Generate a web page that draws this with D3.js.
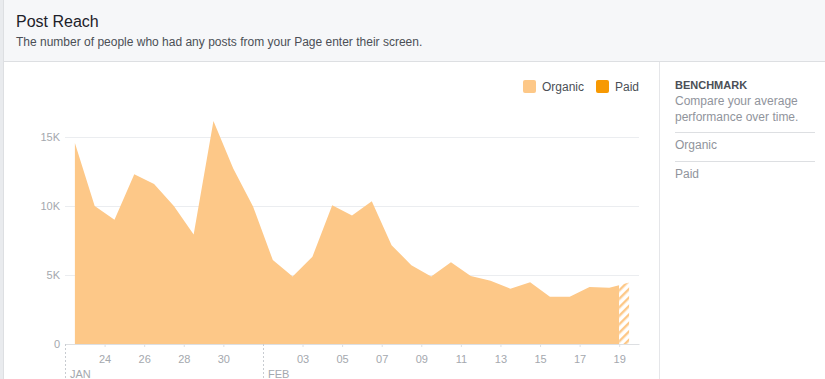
<!DOCTYPE html>
<html>
<head>
<meta charset="utf-8">
<script src="https://cdn.jsdelivr.net/npm/d3@7/dist/d3.min.js"></script>
<style>
body{margin:0;background:#fff;font-family:"Liberation Sans",Arial,Helvetica,sans-serif;}
svg{display:block;}
</style>
</head>
<body>
<div id="chart"></div>
<script>
// data
var days = ["2018-01-22","2018-01-23","2018-01-24","2018-01-25","2018-01-26","2018-01-27","2018-01-28",
  "2018-01-29","2018-01-30","2018-01-31","2018-02-01","2018-02-02","2018-02-03","2018-02-04","2018-02-05",
  "2018-02-06","2018-02-07","2018-02-08","2018-02-09","2018-02-10","2018-02-11","2018-02-12","2018-02-13",
  "2018-02-14","2018-02-15","2018-02-16","2018-02-17","2018-02-18","2018-02-19"];
var organic = [14590,10020,9010,12320,11620,10020,7950,16180,12730,9980,6090,4900,6330,10070,9330,
  10360,7170,5720,4900,5940,4930,4590,4010,4490,3430,3430,4130,4080,4470];
var paid = [0,0,0,0,0,0,0,0,0,0,0,0,0,0,0,0,0,0,0,0,0,0,0,0,0,0,0,0,0];
var xTickDays = ["2018-01-24","2018-01-26","2018-01-28","2018-01-30","2018-02-03","2018-02-05","2018-02-07",
  "2018-02-09","2018-02-11","2018-02-13","2018-02-15","2018-02-17","2018-02-19"];
var monthDays = ["2018-01-22","2018-02-01"];
var monthLabels = ["JAN","FEB"];
var yTicks = [0,5000,10000,15000];
var seriesNames = ["Organic","Paid"];
var seriesColors = ["#fdc888","#f79902"];
var partialStart = "2018-02-19"; // day still in progress -> hatched

var W = 825, H = 379;
var parse = d3.utcParse("%Y-%m-%d");

var data = days.map(function(d,i){
  return {t: d3.utcHour.offset(parse(d),12), organic: organic[i], paid: paid[i]};
});

var x = d3.scaleUtc()
  .domain([parse(days[0]), d3.utcDay.offset(parse(days[days.length-1]),1)])
  .range([65,639]);
var y = d3.scaleLinear().domain([0,15000]).range([344,137.3]);

var svg = d3.select("#chart").append("svg").attr("width",W).attr("height",H);

// page frame
svg.append("rect").attr("x",0).attr("y",0).attr("width",3).attr("height",H).attr("fill","#e9ebee");
svg.append("rect").attr("x",3).attr("y",0).attr("width",W-3).attr("height",61).attr("fill","#f6f7f9");
svg.append("line").attr("x1",3).attr("x2",W).attr("y1",61.5).attr("y2",61.5).attr("stroke","#dddfe2");
svg.append("line").attr("x1",3.5).attr("x2",3.5).attr("y1",0).attr("y2",H).attr("stroke","#dddfe2");
svg.append("line").attr("x1",659.5).attr("x2",659.5).attr("y1",62).attr("y2",H).attr("stroke","#e5e6e9");

svg.append("text").attr("x",16).attr("y",27).attr("font-size",16).attr("fill","#1d2129").text("Post Reach");
svg.append("text").attr("x",16).attr("y",45.5).attr("font-size",12).attr("fill","#4b4f56")
  .text("The number of people who had any posts from your Page enter their screen.");

// hatch for the incomplete day
var defs = svg.append("defs");
var pat = defs.append("pattern").attr("id","hatch").attr("patternUnits","userSpaceOnUse")
  .attr("width",6).attr("height",6).attr("patternTransform","rotate(45)");
pat.append("rect").attr("width",6).attr("height",6).attr("fill","#fff");
pat.append("rect").attr("width",2.4).attr("height",6).attr("fill",seriesColors[0]);

var cut = x(parse(partialStart));
defs.append("clipPath").attr("id","done").append("rect")
  .attr("x",0).attr("y",0).attr("width",cut).attr("height",H);
defs.append("clipPath").attr("id","open").append("rect")
  .attr("x",cut).attr("y",0).attr("width",W-cut).attr("height",H);

// gridlines
svg.append("g").selectAll("line").data(yTicks.filter(function(d){return d>0;})).enter().append("line")
  .attr("x1",65).attr("x2",639)
  .attr("y1",function(d){return Math.round(y(d))+0.5;})
  .attr("y2",function(d){return Math.round(y(d))+0.5;})
  .attr("stroke","#ebedf0");

var area = d3.area()
  .x(function(d){return x(d.t);})
  .y0(y(0))
  .y1(function(d){return y(d.organic);});
var areaPaid = d3.area()
  .x(function(d){return x(d.t);})
  .y0(function(d){return y(d.organic);})
  .y1(function(d){return y(d.organic+d.paid);});

svg.append("path").datum(data).attr("d",area).attr("fill",seriesColors[0]).attr("clip-path","url(#done)");
svg.append("path").datum(data).attr("d",areaPaid).attr("fill",seriesColors[1]).attr("clip-path","url(#done)");
svg.append("path").datum(data).attr("d",area).attr("fill","url(#hatch)").attr("clip-path","url(#open)");

// x axis
var xAxis = svg.append("g").attr("transform","translate(0,344)")
  .call(d3.axisBottom(x).tickValues(xTickDays.map(parse)).tickFormat(d3.utcFormat("%d"))
    .tickSize(3).tickPadding(8).tickSizeOuter(0));
xAxis.select(".domain").attr("stroke","#dddfe2");
xAxis.selectAll(".tick line").attr("stroke","#dddfe2");
xAxis.selectAll("text").attr("fill","#a4a8ae").attr("font-size",11)
  .attr("font-family","'Liberation Sans',Arial,sans-serif");

// month markers
var months = svg.append("g");
monthDays.forEach(function(d,i){
  var mx = Math.round(x(parse(d)))+0.5;
  months.append("line").attr("x1",mx).attr("x2",mx).attr("y1",344).attr("y2",H)
    .attr("stroke","#c8ccd1").attr("stroke-dasharray","2,2");
  months.append("text").attr("x",mx+4.5).attr("y",378).attr("font-size",11).attr("fill","#a4a8ae")
    .text(monthLabels[i]);
});

// y axis
var yAxis = svg.append("g").attr("transform","translate(65,0)")
  .call(d3.axisLeft(y).tickValues(yTicks).tickSize(0).tickPadding(5)
    .tickFormat(function(d){return d===0 ? "0" : (d/1000)+"K";}));
yAxis.select(".domain").remove();
yAxis.selectAll("text").attr("fill","#a4a8ae").attr("font-size",11)
  .attr("font-family","'Liberation Sans',Arial,sans-serif");

// legend
var legX = [523,596];
var leg = svg.append("g");
seriesNames.forEach(function(n,i){
  leg.append("rect").attr("x",legX[i]).attr("y",80).attr("width",13).attr("height",13)
    .attr("rx",2).attr("fill",seriesColors[i]);
  leg.append("text").attr("x",legX[i]+19).attr("y",90.5).attr("font-size",12).attr("fill","#4b4f56").text(n);
});

// benchmark panel
var side = svg.append("g");
side.append("text").attr("x",675).attr("y",89).attr("font-size",11).attr("font-weight","bold")
  .attr("fill","#4b4f56").text("BENCHMARK");
side.append("text").attr("x",675).attr("y",104.5).attr("font-size",12).attr("fill","#90949c").text("Compare your average");
side.append("text").attr("x",675).attr("y",120.5).attr("font-size",12).attr("fill","#90949c").text("performance over time.");
side.append("line").attr("x1",675).attr("x2",815).attr("y1",132.5).attr("y2",132.5).attr("stroke","#dddfe2");
side.append("text").attr("x",675).attr("y",149).attr("font-size",12).attr("fill","#90949c").text(seriesNames[0]);
side.append("line").attr("x1",675).attr("x2",815).attr("y1",161.5).attr("y2",161.5).attr("stroke","#dddfe2");
side.append("text").attr("x",675).attr("y",178).attr("font-size",12).attr("fill","#90949c").text(seriesNames[1]);
</script>
</body>
</html>
